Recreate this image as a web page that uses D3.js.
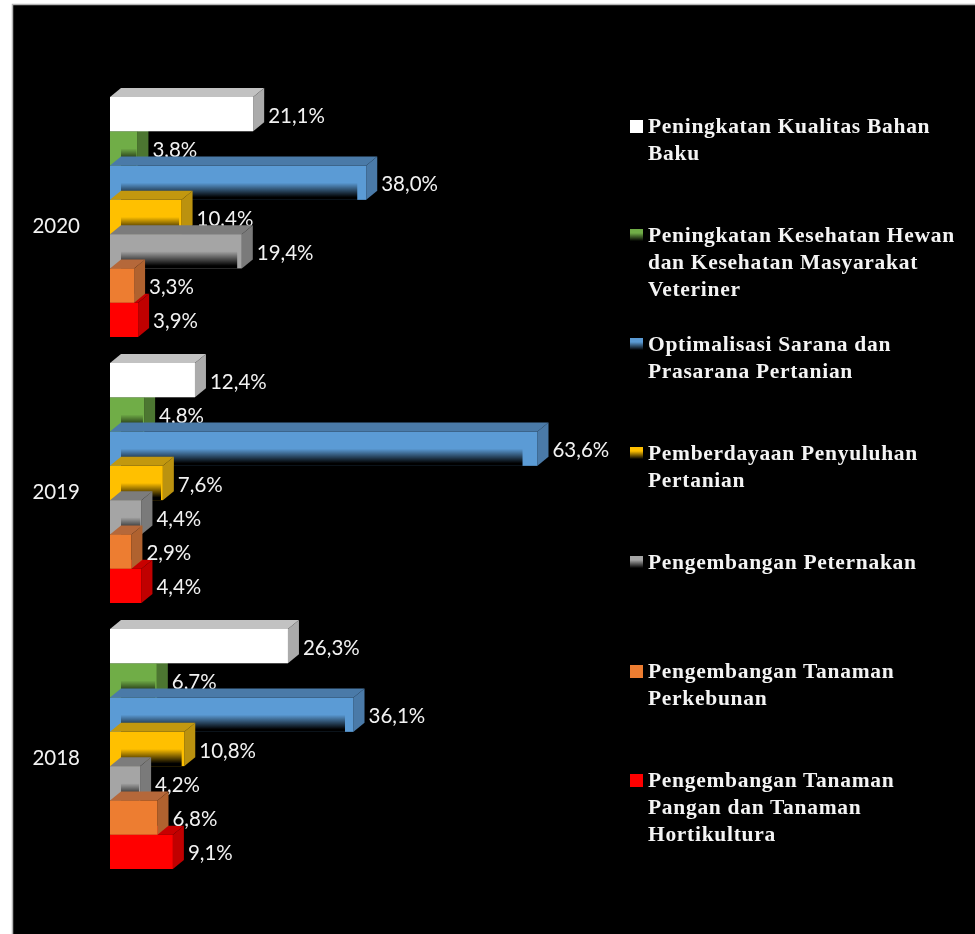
<!DOCTYPE html>
<html>
<head>
<meta charset="utf-8">
<script src="https://cdn.jsdelivr.net/npm/d3@7"></script>
<style>
  html, body { margin: 0; padding: 0; background: #fff; overflow: hidden; }
  svg { display: block; filter: blur(0.45px); }
</style>
</head>
<body>
<script>
    //Data (percent)
    var years = ["2020", "2019", "2018"];
    var seriesNames = ["Peningkatan Kualitas Bahan Baku",
                       "Peningkatan Kesehatan Hewan dan Kesehatan Masyarakat Veteriner",
                       "Optimalisasi Sarana dan Prasarana Pertanian",
                       "Pemberdayaan Penyuluhan Pertanian",
                       "Pengembangan Peternakan",
                       "Pengembangan Tanaman Perkebunan",
                       "Pengembangan Tanaman Pangan dan Tanaman Hortikultura"];
    var values2020 = [21.1, 3.8, 38.0, 10.4, 19.4, 3.3, 3.9];
    var values2019 = [12.4, 4.8, 63.6, 7.6, 4.4, 2.9, 4.4];
    var values2018 = [26.3, 6.7, 36.1, 10.8, 4.2, 6.8, 9.1];
    var legendLines = [["Peningkatan Kualitas Bahan", "Baku"],
                       ["Peningkatan Kesehatan Hewan", "dan Kesehatan Masyarakat", "Veteriner"],
                       ["Optimalisasi Sarana dan", "Prasarana Pertanian"],
                       ["Pemberdayaan Penyuluhan", "Pertanian"],
                       ["Pengembangan Peternakan"],
                       ["Pengembangan Tanaman", "Perkebunan"],
                       ["Pengembangan Tanaman", "Pangan dan Tanaman", "Hortikultura"]];
    var frontColors = ["#ffffff", "#70ad47", "#5b9bd5", "#ffc000", "#a5a5a5", "#ed7d31", "#ff0000"];
    var topColors = ["#c2c2c2", "#4f7c33", "#4a7aa8", "#c2980f", "#7c7c7c", "#b5683a", "#c80000"];
    var sideColors = ["#ababab", "#4c7631", "#4a7aa8", "#bb920f", "#7a7a7a", "#b0622f", "#c00000"];
    var hasFade = [false, true, true, true, true, false, false];
    var valuesByYear = {"2020": values2020, "2019": values2019, "2018": values2018};

    //Bars overlap, so this is the paint order (top to bottom except green and red)
    var drawOrder = [1, 0, 2, 3, 4, 6, 5];

    var width = 975, height = 934;
    var depthX = 11, depthY = 9; //3d offset of the bar top and side

    var svg = d3.select("body")
        .append("svg")
        .attr("width", width)
        .attr("height", height);

    var grad = svg.append("defs")
        .append("linearGradient")
        .attr("id", "fade")
        .attr("x1", 0).attr("y1", 0)
        .attr("x2", 0).attr("y2", 1);
    grad.append("stop").attr("offset", "0%").attr("stop-color", "#000").attr("stop-opacity", 0);
    grad.append("stop").attr("offset", "85%").attr("stop-color", "#000").attr("stop-opacity", 1);
    grad.append("stop").attr("offset", "100%").attr("stop-color", "#000").attr("stop-opacity", 1);

    //Black panel with its thin grey edge
    svg.append("rect")
        .attr("x", 12.5).attr("y", 4.5)
        .attr("width", width).attr("height", height)
        .style("fill", "#000")
        .style("stroke", "#b5b5b5")
        .style("stroke-width", 1.5);

    //Define Scales
    var xScale = d3.scaleLinear()
        .domain([-0.3, 70])
        .range([110, 110 + 70.3 * 6.69]);

    var yScale = d3.scaleBand()
        .domain(years)
        .range([97, 869])
        .paddingInner(26 / 266)
        .paddingOuter(0);

    var barScale = d3.scaleBand()
        .domain(d3.range(seriesNames.length))
        .range([0, yScale.bandwidth()]);

    //Year axis
    var yAxis = d3.axisLeft(yScale).tickSize(0).tickPadding(30);
    var yAxisG = svg.append("g")
        .attr("transform", "translate(110,9)")
        .call(yAxis);
    yAxisG.select(".domain").remove();
    yAxisG.selectAll("text")
        .style("fill", "#f2f2f2")
        .style("font-family", "Lato")
        .style("font-size", "20.5px");

    function poly(points) {
        return points.map(function (p) { return p.join(","); }).join(" ");
    }

    //Drawing the 3d bars, one year at a time
    years.forEach(function (year) {
        var g = svg.append("g").attr("class", "year");
        var vals = valuesByYear[year];
        var x0 = xScale.range()[0];
        var h = barScale.bandwidth();

        drawOrder.forEach(function (i) {
            var x1 = xScale(vals[i]);
            var y0 = yScale(year) + barScale(i);
            var y1 = y0 + h;
            var bar = g.append("g").attr("class", "bar");

            bar.append("polygon")
                .attr("points", poly([[x0, y0], [x0 + depthX, y0 - depthY], [x1 + depthX, y0 - depthY], [x1, y0]]))
                .style("fill", topColors[i]);
            bar.append("polygon")
                .attr("points", poly([[x1, y0], [x1 + depthX, y0 - depthY], [x1 + depthX, y1 - depthY], [x1, y1]]))
                .style("fill", sideColors[i]);
            bar.append("rect")
                .attr("x", x0).attr("y", y0)
                .attr("width", x1 - x0).attr("height", h)
                .style("fill", frontColors[i]);

            //Shadow at the bottom of some bars, stops short of both ends
            if (hasFade[i]) {
                var inset = (x1 - x0) * 0.035;
                bar.append("rect")
                    .attr("x", x0 + depthX)
                    .attr("y", y0 + h * 0.5)
                    .attr("width", Math.max(0, x1 - x0 - depthX - inset))
                    .attr("height", h * 0.5)
                    .style("fill", "url(#fade)");
            }

            bar.append("text")
                .attr("x", x1 + depthX + 4)
                .attr("y", y0 + h / 2 + 8.5)
                .style("fill", "#f2f2f2")
                .style("font-family", "Lato")
                .style("font-size", "20.5px")
                .text(vals[i].toFixed(1).replace(".", ",") + "%");
        });
    });

    //Legend
    var legendScale = d3.scalePoint()
        .domain(d3.range(seriesNames.length))
        .range([133, 787]);

    var legend = svg.selectAll(".legend")
        .data(seriesNames)
        .enter().append("g")
        .attr("class", "legend")
        .attr("transform", function (d, i) { return "translate(630," + legendScale(i) + ")"; });

    legend.append("rect")
        .attr("y", -13)
        .attr("width", 13).attr("height", 13)
        .style("fill", function (d, i) { return frontColors[i]; });

    legend.filter(function (d, i) { return hasFade[i]; })
        .append("rect")
        .attr("y", -9)
        .attr("width", 13).attr("height", 9.5)
        .style("fill", "url(#fade)");

    legend.append("text")
        .style("fill", "#f4f4f4")
        .style("font-family", "Liberation Serif")
        .style("font-weight", "bold")
        .style("font-size", "21.5px")
        .style("letter-spacing", "0.7px")
        .selectAll("tspan")
        .data(function (d, i) { return legendLines[i]; })
        .enter().append("tspan")
        .attr("x", 18)
        .attr("y", function (d, i) { return i * 27; })
        .text(function (d) { return d; });
</script>
</body>
</html>
